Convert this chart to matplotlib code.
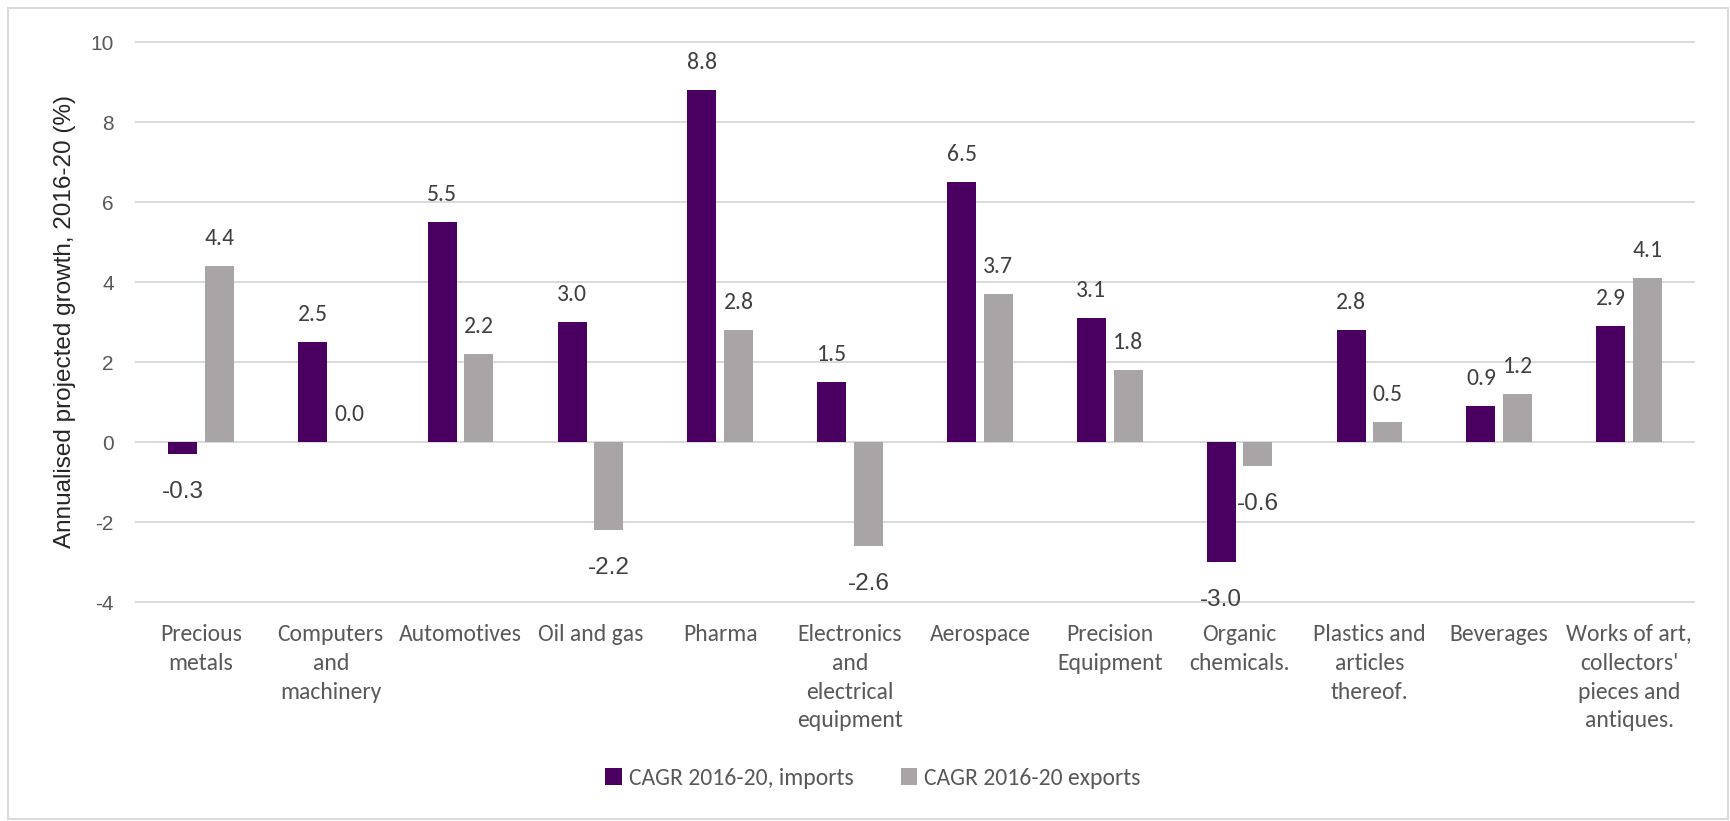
import matplotlib.pyplot as plt
import numpy as np
from matplotlib.patches import Rectangle

# Data
categories = ["Precious\nmetals", "Computers\nand\nmachinery", "Automotives", "Oil and gas",
              "Pharma", "Electronics\nand\nelectrical\nequipment", "Aerospace",
              "Precision\nEquipment", "Organic\nchemicals.", "Plastics and\narticles\nthereof.",
              "Beverages", "Works of art,\ncollectors'\npieces and\nantiques."]
imports = [-0.3, 2.5, 5.5, 3.0, 8.8, 1.5, 6.5, 3.1, -3.0, 2.8, 0.9, 2.9]
exports = [4.4, 0.0, 2.2, -2.2, 2.8, -2.6, 3.7, 1.8, -0.6, 0.5, 1.2, 4.1]
series_names = ["CAGR 2016-20, imports", "CAGR 2016-20 exports"]
yticks = [-4, -2, 0, 2, 4, 6, 8, 10]

col_imp = "#4a0060"
col_exp = "#a9a4a6"
grid_col = "#d9d9d9"
calibri = ["Carlito", "Lato", "DejaVu Sans"]
arial = ["Liberation Sans", "DejaVu Sans"]

W, H = 1731, 821
fig = plt.figure(figsize=(W / 100, H / 100), dpi=100)
ax = fig.add_axes([136 / W, 1 - 602 / H, (1694 - 136) / W, (602 - 42) / H])

x = np.arange(len(categories))
bw = 0.223
off = 0.141
b1 = ax.bar(x - off, imports, bw, color=col_imp, label=series_names[0], zorder=3)
b2 = ax.bar(x + off, exports, bw, color=col_exp, label=series_names[1], zorder=3)

# value labels: positive above the bar, negative below
for bars, vals in ((b1, imports), (b2, exports)):
    for r, v in zip(bars, vals):
        cx = r.get_x() + r.get_width() / 2
        if v >= 0:
            ax.annotate(f"{v:.1f}", (cx, v), xytext=(0, 20), textcoords="offset points",
                        ha="center", va="center", fontsize=17, color="#404040",
                        family=calibri)
        else:
            ax.annotate(f"{v:.1f}", (cx, v), xytext=(0, -27), textcoords="offset points",
                        ha="center", va="center", fontsize=17.5, color="#404040",
                        family=arial)

ax.set_xlim(-0.5, len(categories) - 0.5)
ax.set_ylim(-4, 10)
for y in yticks:
    ax.axhline(y, color=grid_col, lw=1.4, zorder=1, clip_on=False)
ax.set_yticks(yticks)
ax.set_yticklabels([str(t) for t in yticks], fontsize=15, color="#595959", family=arial)
ax.set_xticks(x)
ax.set_xticklabels(categories, fontsize=17, color="#595959", family=calibri,
                   linespacing=1.45, va="top")
ax.tick_params(axis="both", length=0)
ax.tick_params(axis="y", pad=16)
ax.tick_params(axis="x", pad=16)
for s in ax.spines.values():
    s.set_visible(False)

fig.text(65 / W, 1 - 322 / H, "Annualised projected growth, 2016-20 (%)", rotation=90,
         ha="center", va="center", fontsize=17.5, color="#262626", family=arial)

fig.legend(handles=[b1, b2], loc="center", bbox_to_anchor=(873 / W, 1 - 778 / H), ncol=2,
           frameon=False, handlelength=0.7, handleheight=0.7, handletextpad=0.3,
           columnspacing=2.0, prop={"family": calibri, "size": 17},
           labelcolor="#595959")

fig.add_artist(Rectangle((8 / W, 1 - 819 / H), (1728 - 8) / W, (819 - 8) / H,
                         transform=fig.transFigure, fill=False, ec=grid_col, lw=1.4))

fig.savefig("out.png", dpi=100)
